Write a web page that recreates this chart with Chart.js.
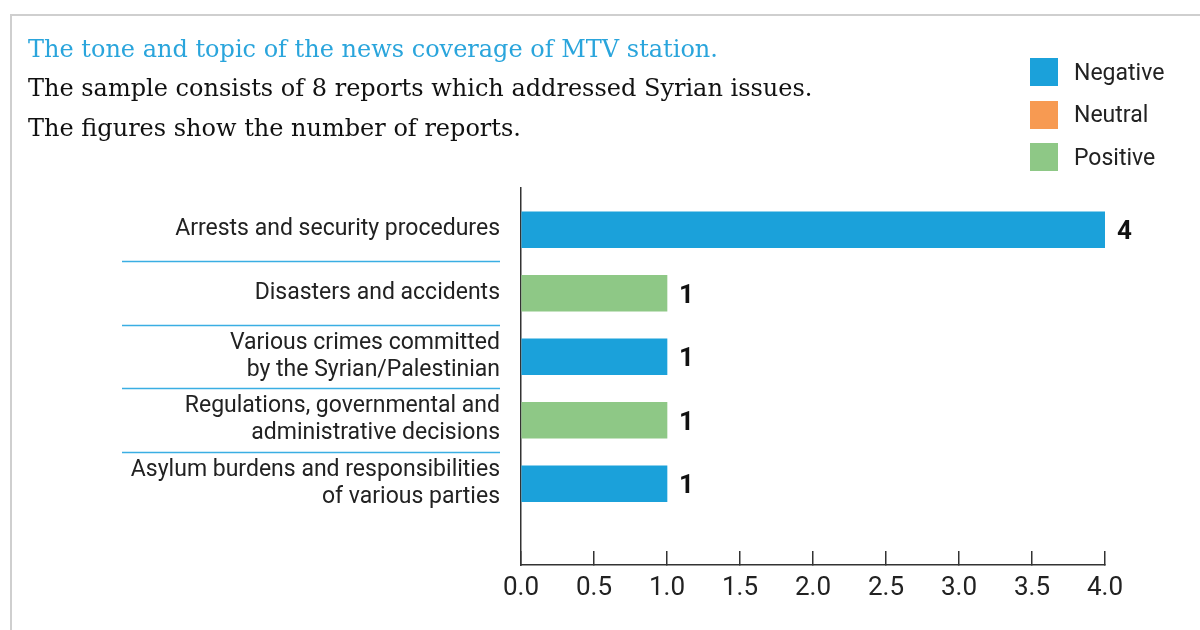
<!DOCTYPE html>
<html>
<head>
<meta charset="utf-8">
<script src="https://cdn.jsdelivr.net/npm/chart.js@4"></script>
<style>
  html, body { margin: 0; padding: 0; background: #fff; }
  #wrap { position: relative; width: 1200px; height: 630px; overflow: hidden; }
  #frame { position: absolute; left: 10px; top: 14px; width: 1300px; height: 700px;
           border-left: 2px solid #cfcfcf; border-top: 2px solid #cfcfcf; }
  #chart { position: absolute; left: 0; top: 0; }
  #legend { position: absolute; left: 1030px; top: 58px; font-family: Roboto, sans-serif;
            font-size: 23px; color: #222; }
  .item { display: flex; align-items: center; height: 28px; margin-bottom: 14.5px; }
  .box { width: 28px; height: 28px; margin-right: 16px; }
</style>
</head>
<body>
<div id="wrap">
  <div id="frame"></div>
  <canvas id="chart" width="1200" height="630"></canvas>
  <div id="legend"></div>
</div>
<script>
// ---- data ----
const titleText = "The tone and topic of the news coverage of MTV station.";
const subtitleLines = [
  "The sample consists of 8 reports which addressed Syrian issues.",
  "The figures show the number of reports."
];
const categories = [
  ["Arrests and security procedures"],
  ["Disasters and accidents"],
  ["Various crimes committed", "by the Syrian/Palestinian"],
  ["Regulations, governmental and", "administrative decisions"],
  ["Asylum burdens and responsibilities", "of various parties"]
];
const values = [4, 1, 1, 1, 1];
const tones = ["Negative", "Positive", "Negative", "Positive", "Negative"];
const toneNames = ["Negative", "Neutral", "Positive"];
const toneColors = ["#1ba1da", "#f79a52", "#8ec886"];
const xTicks = [0, 0.5, 1, 1.5, 2, 2.5, 3, 3.5, 4];
const yMin = -0.66, yMax = 5.28;

// ---- datasets built from arrays ----
const datasets = toneNames.map((name, k) => ({
  label: name,
  backgroundColor: toneColors[k],
  borderWidth: 0,
  barThickness: 36,
  grouped: false,
  data: values.map((v, i) => tones[i] === name ? { x: v, y: i } : null).filter(d => d !== null)
}));

const valueLabels = {
  id: 'valueLabels',
  afterDatasetsDraw(chart) {
    const ctx = chart.ctx;
    ctx.save();
    ctx.font = 'bold 26px Roboto, sans-serif';
    ctx.fillStyle = '#111';
    ctx.textAlign = 'left';
    ctx.textBaseline = 'middle';
    chart.data.datasets.forEach((ds, di) => {
      const meta = chart.getDatasetMeta(di);
      meta.data.forEach((el, j) => {
        ctx.fillText(String(ds.data[j].x), el.x + 12, el.y + 3);
      });
    });
    ctx.restore();
  }
};

const separators = {
  id: 'separators',
  afterDraw(chart) {
    const ys = chart.scales.y;
    const ctx = chart.ctx;
    ctx.save();
    ctx.strokeStyle = '#3aaee3';
    ctx.lineWidth = 1.5;
    for (let i = 0; i < categories.length - 1; i++) {
      const y = Math.round(ys.getPixelForValue(i + 0.5)) + 0.5;
      ctx.beginPath();
      ctx.moveTo(122, y);
      ctx.lineTo(ys.right - 21, y);
      ctx.stroke();
    }
    ctx.restore();
  }
};

const chart = new Chart(document.getElementById('chart'), {
  type: 'bar',
  data: { datasets },
  options: {
    indexAxis: 'y',
    responsive: false,
    animation: false,
    layout: { padding: { left: 28, right: 95, top: 0, bottom: 0 } },
    plugins: {
      legend: { display: false },
      tooltip: { enabled: false },
      title: {
        display: true, text: titleText, align: 'start', color: '#2aa5dc',
        font: { family: 'DejaVu Serif', size: 24, weight: 'normal', lineHeight: 1.2 },
        padding: { top: 36, bottom: 5 }
      },
      subtitle: {
        display: true, text: subtitleLines, align: 'start', color: '#111',
        font: { family: 'DejaVu Serif', size: 24, weight: 'normal', lineHeight: 40 / 24 },
        padding: { top: 0, bottom: 38 }
      }
    },
    scales: {
      x: {
        type: 'linear', min: 0, max: 4, bounds: 'data', offset: false,
        afterBuildTicks: s => { s.ticks = xTicks.map(v => ({ value: v })); s.min = 0; s.max = 4; },
        afterFit: s => { s.height = 65; },
        grid: { display: true, drawOnChartArea: false, drawTicks: true, tickLength: -14, color: '#333', lineWidth: 1.5 },
        border: { display: true, color: '#333', width: 1.5 },
        ticks: {
          padding: 22, color: '#222',
          font: { family: 'Roboto', size: 26 },
          callback: v => Number(v).toFixed(1)
        }
      },
      y: {
        type: 'linear', reverse: true, min: yMin, max: yMax, bounds: 'data', offset: false,
        afterBuildTicks: s => { s.ticks = categories.map((c, i) => ({ value: i })); s.min = yMin; s.max = yMax; },
        afterFit: s => { s.width = 521 - 28; },
        grid: { display: true, drawOnChartArea: false, drawTicks: false },
        border: { display: true, color: '#333', width: 1.5 },
        ticks: {
          padding: 21, color: '#222',
          font: { family: 'Roboto', size: 23, lineHeight: 27 / 23 },
          callback: v => categories[v] || ''
        }
      }
    }
  },
  plugins: [valueLabels, separators]
});

// ---- HTML legend generated from chart datasets ----
const legendEl = document.getElementById('legend');
chart.data.datasets.forEach(ds => {
  const item = document.createElement('div');
  item.className = 'item';
  const box = document.createElement('span');
  box.className = 'box';
  box.style.background = ds.backgroundColor;
  const txt = document.createElement('span');
  txt.textContent = ds.label;
  item.appendChild(box);
  item.appendChild(txt);
  legendEl.appendChild(item);
});
</script>
</body>
</html>
